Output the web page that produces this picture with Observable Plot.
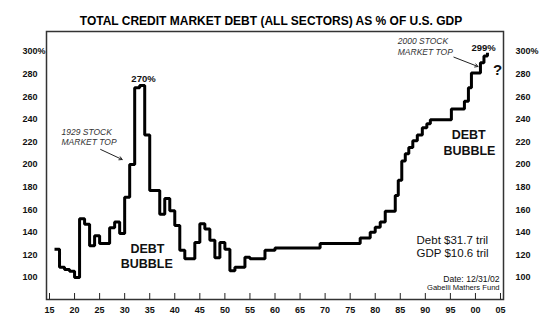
<!DOCTYPE html>
<html><head><meta charset="utf-8">
<script src="https://cdn.jsdelivr.net/npm/d3@7"></script>
<script src="https://cdn.jsdelivr.net/npm/@observablehq/plot@0.6"></script>
<style>html,body{margin:0;padding:0;background:#fff;} svg{display:block;}</style>
</head><body><div id="chart"></div>
<script>
// Year at which each step begins, and the debt-to-GDP level (%) from then on
const years = [1916,1917,1918,1919,1920,1921,1922,1923,1924,1925,1927,1928,1929,1930,1931,1932,1933,1934,1935,1937,1938,1939,1940,1941,1942,1944,1945,1946,1947,1948,1949,1950,1951,1952,1954,1955,1958,1960,1969,1977,1979,1980,1981,1982,1984,1984.6,1985.3,1986,1986.7,1987.5,1988.4,1989.4,1990.3,1991,1995.2,1997.8,1998.6,1999.2,2001,2001.7,2002.4];
const debtPct = [125,109,107,105.5,100,152,147,128,137,130,144,149,139,171,200,268,270,226,177,156,170,159,146,124,116.5,131,147.5,143,133,117.5,131,125,106,109,118,116.5,124,126,130,135,140,144.5,149,158.5,172.5,186,203,209.5,215,221,226,232.5,236,239.5,249,256,268,281,290,296,299];

const xTicks = [1915,1920,1925,1930,1935,1940,1945,1950,1955,1960,1965,1970,1975,1980,1985,1990,1995,2000,2005];
const yTicks = [100,120,140,160,180,200,220,240,260,280,300];

const title = "TOTAL CREDIT MARKET DEBT (ALL SECTORS) AS % OF U.S. GDP";

// annotation texts and the (year, %) where they sit
const boldNotes = ["270%", "299%"];
const boldNoteYears = [1933.76, 2001.63];
const boldNotePcts = [276.1, 303.5];

const italicNotes = ["1929 STOCK", "MARKET TOP", "2000 STOCK", "MARKET TOP"];
const italicNoteYears = [1917.4, 1917.4, 1984.5, 1984.5];
const italicNotePcts = [228.8, 219.5, 308.8, 299.1];

const bubbleNotes = ["DEBT", "BUBBLE", "DEBT", "BUBBLE"];
const bubbleYears = [1934.55, 1934.4, 1998.65, 1998.8];
const bubblePcts = [125.2, 111.5, 226.5, 211.5];

const arrowFromYears = [1925.2, 1995.7];
const arrowFromPcts = [213.3, 295];
const arrowToYears = [1929.5, 2000.5];
const arrowToPcts = [204.4, 286.7];

const statNotes = ["Debt $31.7 tril", "GDP $10.6 tril"];
const statYears = [1988.25, 1988.25];
const statPcts = [132.7, 121.2];

const sourceNotes = ["Date: 12/31/02", "Gabelli Mathers Fund"];
const sourceYears = [2004.82, 2004.82];
const sourcePcts = [98.6, 90.8];

const rows = years.map((y, i) => ({year: y, pct: debtPct[i]}));
const idx = a => a.map((_, i) => i);

const chart = Plot.plot({
  width: 550,
  height: 325,
  marginLeft: 46,
  marginRight: 47,
  marginTop: 31,
  marginBottom: 26,
  style: {fontFamily: "'Liberation Sans', Arial, sans-serif", fontSize: "9px", color: "#111", background: "#fff"},
  x: {domain: [1914.4, 2005.6], label: null},
  y: {domain: [80.5, 317.7], label: null},
  marks: [
    Plot.frame({stroke: "#333", strokeWidth: 1.5}),
    Plot.ruleX(xTicks, {x: d => d, insetTop: 262, stroke: "#222", strokeWidth: 1}),
    Plot.axisX(xTicks, {anchor: "bottom", label: null, tickSize: 0, tickPadding: 7, fontWeight: "bold", fontSize: 9,
      tickFormat: d => String(d % 100).padStart(2, "0")}),
    Plot.axisY(yTicks, {anchor: "left", label: null, tickSize: 0, tickPadding: 0, dx: -24, textAnchor: "start", fontWeight: "bold", fontSize: 9,
      tickFormat: d => d === 300 ? "300%" : String(d)}),
    Plot.axisY(yTicks, {anchor: "right", label: null, tickSize: 0, tickPadding: 12, textAnchor: "start", fontWeight: "bold", fontSize: 9,
      tickFormat: d => d === 300 ? "300%" : String(d)}),
    Plot.line(rows, {x: "year", y: "pct", curve: "step-after", stroke: "#000", strokeWidth: 3, strokeLinejoin: "miter", strokeLinecap: "butt"}),
    Plot.arrow(idx(arrowFromYears), {x1: i => arrowFromYears[i], y1: i => arrowFromPcts[i], x2: i => arrowToYears[i], y2: i => arrowToPcts[i],
      stroke: "#222", strokeWidth: 1, headLength: 5}),
    Plot.text(idx(boldNotes), {x: i => boldNoteYears[i], y: i => boldNotePcts[i], text: i => boldNotes[i], fontWeight: "bold", fontSize: 9.5, fill: "#111"}),
    Plot.text(idx(italicNotes), {x: i => italicNoteYears[i], y: i => italicNotePcts[i], text: i => italicNotes[i], textAnchor: "start", fontStyle: "italic", fontSize: 8.5, fill: "#333"}),
    Plot.text(idx(bubbleNotes), {x: i => bubbleYears[i], y: i => bubblePcts[i], text: i => bubbleNotes[i], fontWeight: "bold", fontSize: 12.5, fill: "#111"}),
    Plot.text(["?"], {x: 2004.42, y: 283.2, text: d => d, fontWeight: "bold", fontSize: 15, fill: "#111"}),
    Plot.text(idx(statNotes), {x: i => statYears[i], y: i => statPcts[i], text: i => statNotes[i], textAnchor: "start", fontSize: 11.5, fill: "#111"}),
    Plot.text(idx(sourceNotes), {x: i => sourceYears[i], y: i => sourcePcts[i], text: i => sourceNotes[i], textAnchor: "end",
      fontSize: i => i === 0 ? 8.6 : 7.6, fill: "#111"}),
    Plot.text([title], {frameAnchor: "top", dy: -15, dx: -4, text: d => d, fontWeight: "bold", fontSize: 12, fill: "#000"})
  ]
});
document.getElementById("chart").appendChild(chart);
</script>
</body></html>
